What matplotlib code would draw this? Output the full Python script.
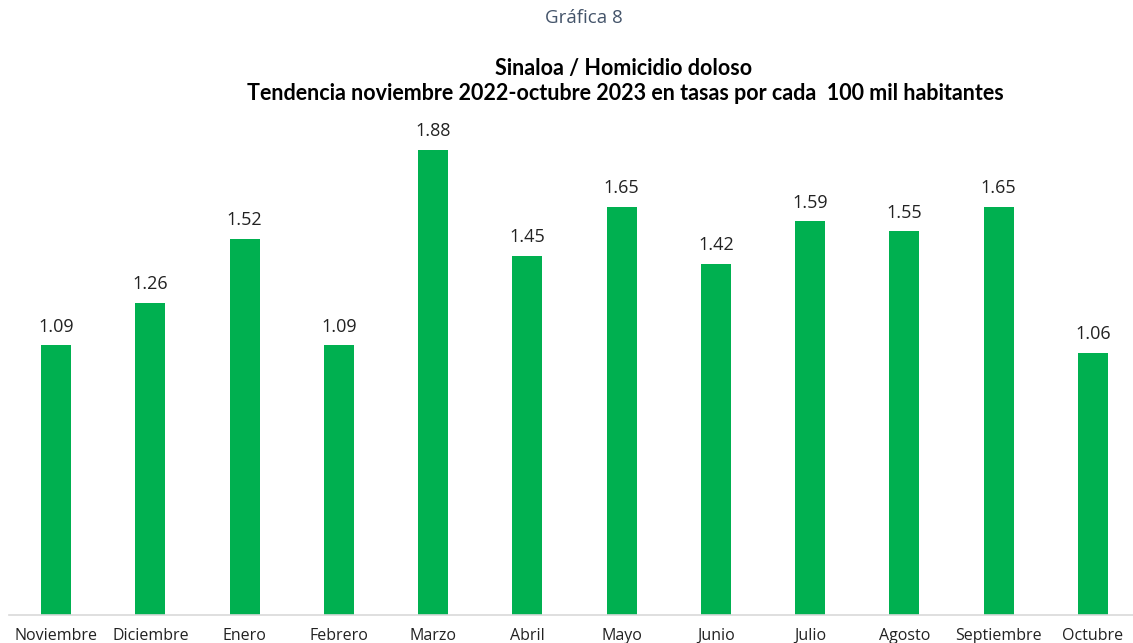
import matplotlib
matplotlib.use("Agg")
import matplotlib.pyplot as plt

months = ["Noviembre", "Diciembre", "Enero", "Febrero", "Marzo", "Abril",
          "Mayo", "Junio", "Julio", "Agosto", "Septiembre", "Octubre"]
values = [1.09, 1.26, 1.52, 1.09, 1.88, 1.45, 1.65, 1.42, 1.59, 1.55, 1.65, 1.06]
value_labels = ["1.09", "1.26", "1.52", "1.09", "1.88", "1.45", "1.65", "1.42",
                "1.59", "1.55", "1.65", "1.06"]

W, H = 1133, 643
fig = plt.figure(figsize=(W / 100, H / 100), dpi=100)
fig.patch.set_facecolor("white")

left = 9 / W
width = (1140 - 9) / W
bottom = (H - 615) / H
height = (615 - 120) / H
ax = fig.add_axes([left, bottom, width, height])

x = list(range(len(months)))
ax.bar(x, values, width=0.32, color="#00B050", zorder=2)
ax.set_xlim(-0.5, 11.5)
ax.set_ylim(0, 2.0)

for xi, v, lab in zip(x, values, value_labels):
    ax.annotate(lab, (xi, v), xytext=(0, 7), textcoords="offset points",
                ha="center", va="bottom", fontsize=13, family="Open Sans",
                color="#222222")

ax.set_xticks(x)
ax.set_xticklabels(months, fontsize=11.5, family="Open Sans", color="#222222")
ax.tick_params(axis="x", length=0, pad=9)
ax.set_yticks([])
for s in ["top", "right", "left"]:
    ax.spines[s].set_visible(False)
ax.spines["bottom"].set_color("#D9D9D9")
ax.spines["bottom"].set_linewidth(1.2)

fig.text(584 / W, 1 - 18 / H, "Gráfica 8", ha="center", va="center",
         fontsize=13.5, family="Open Sans", color="#44546A")
fig.text(624 / W, 1 - 68 / H, "Sinaloa / Homicidio doloso", ha="center",
         va="center", fontsize=15.5, family="Lato", weight="bold", color="black")
fig.text(625 / W, 1 - 93 / H,
         "Tendencia noviembre 2022-octubre 2023 en tasas por cada  100 mil habitantes",
         ha="center", va="center", fontsize=15.5, family="Lato", weight="bold",
         color="black")

fig.savefig("out.png", dpi=100, facecolor="white")
